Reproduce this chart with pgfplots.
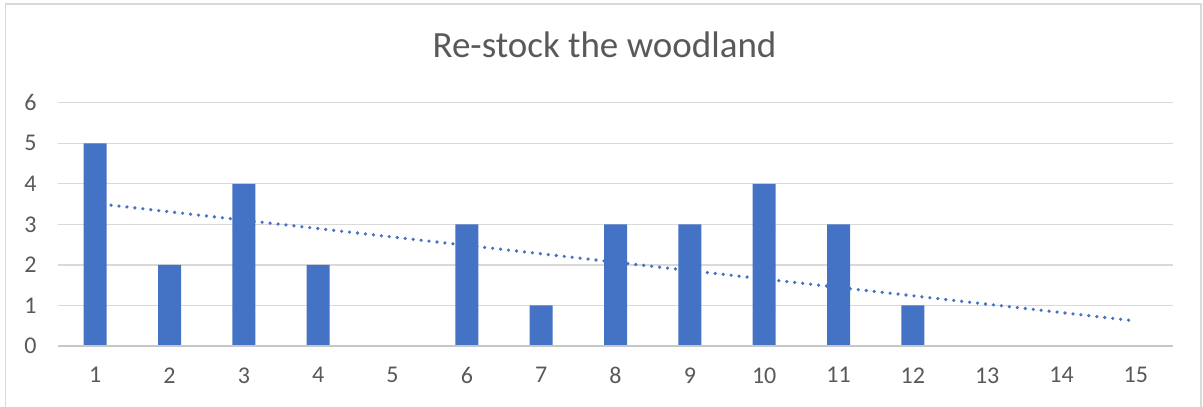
\documentclass[border=0pt]{standalone}
\usepackage{pgfplots}
\pgfplotsset{compat=1.18}
\usepackage{fontspec}
\setmainfont{Carlito}
\definecolor{barblue}{HTML}{4472C4}
\definecolor{txtgray}{HTML}{595959}
\definecolor{gridgray}{HTML}{D9D9D9}
\definecolor{framegray}{HTML}{D9D9D9}
\begin{document}
\begin{tikzpicture}[x=1pt,y=1pt]
\path[use as bounding box] (0,0) rectangle (1203,407);
\draw[framegray,line width=1.5pt] (5.5,-5) -- (5.5,403) -- (1201,403) -- (1201,-5);
\node[anchor=base,text=txtgray,font=\fontsize{37}{44}\selectfont,inner sep=0pt] at (604.5,349) {Re-stock the woodland};
\begin{axis}[
  at={(58pt,61pt)}, anchor=south west,
  scale only axis, width=1115pt, height=243.3pt,
  xmin=0.5, xmax=15.5, ymin=0, ymax=6,
  xtick={1,...,15}, ytick={0,...,6},
  ymajorgrids, grid style={gridgray,line width=1.3pt},
  axis line style={draw=none},
  axis x line*=bottom, axis y line*=left,
  major tick length=0pt,
  tick label style={text=txtgray,font=\fontsize{24}{28}\selectfont},
  /pgf/number format/assume math mode=true,
  yticklabel style={anchor=east,xshift=-18pt},
  xticklabel style={anchor=north,yshift=-18pt},
  clip=false,
]
\addplot[ybar, bar width=23pt, fill=barblue, draw=none] coordinates {
(1,5) (2,2) (3,4) (4,2) (5,0) (6,3) (7,1) (8,3) (9,3) (10,4) (11,3) (12,1) (13,0) (14,0) (15,0)};
\draw[gridgray!85!black!80,line width=1.3pt] (axis cs:0.5,0) -- (axis cs:15.5,0);
\addplot[barblue, line width=3.6pt, line cap=round, dash pattern=on 0pt off 8pt] coordinates {(1,3.517) (15,0.617)};
\end{axis}
\end{tikzpicture}
\end{document}
